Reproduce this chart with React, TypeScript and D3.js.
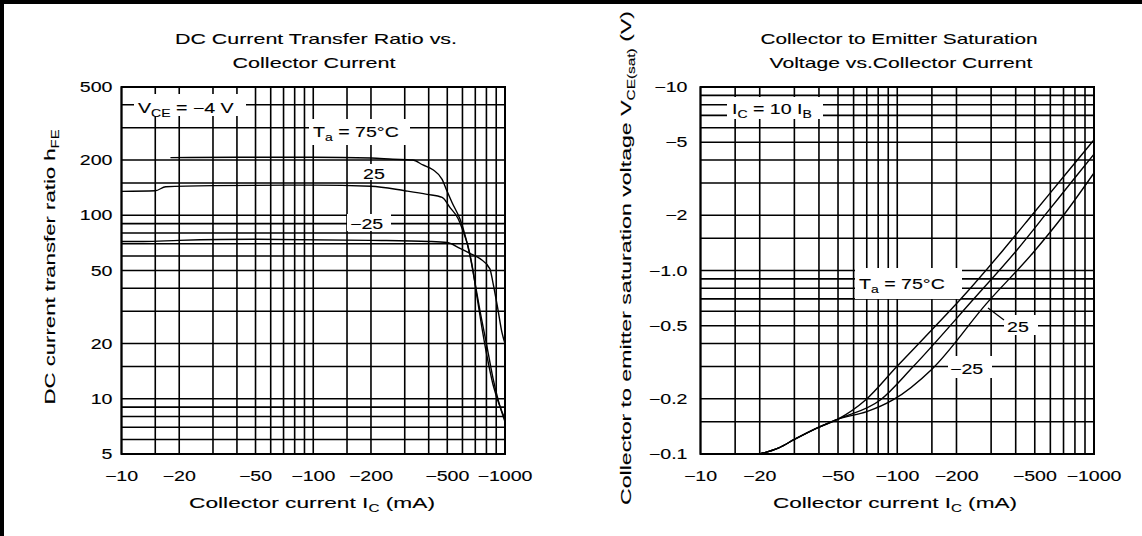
import React from 'react';
import * as d3 from 'd3';

const W = 1142;
const H = 536;

// ---- axis data ----
const icTicks = [10, 20, 50, 100, 200, 500, 1000];
const icTickLabels = ['−10', '−20', '−50', '−100', '−200', '−500', '−1000'];
const icGrid = [10, 15, 20, 30, 40, 50, 60, 70, 80, 90, 100, 150, 200, 300, 400, 500, 600, 700, 800, 900, 1000];

const hfeTicks = [5, 10, 20, 50, 100, 200, 500];
const hfeTickLabels = ['5', '10', '20', '50', '100', '200', '500'];
const hfeGrid = [5, 6, 7, 8, 9, 10, 15, 20, 30, 40, 50, 60, 70, 80, 90, 100, 150, 200, 300, 400, 500];

const vsatTicks = [0.1, 0.2, 0.5, 1, 2, 5, 10];
const vsatTickLabels = ['−0.1', '−0.2', '−0.5', '−1.0', '−2', '−5', '−10'];
const vsatGrid = [0.1, 0.15, 0.2, 0.3, 0.4, 0.5, 0.6, 0.7, 0.8, 0.9, 1, 1.5, 2, 3, 4, 5, 6, 7, 8, 9, 10];

// ---- hFE vs Ic (VCE = -4 V) ----
const hfe75Ic = [18, 40, 100, 200, 260, 330, 373, 421, 470, 499, 530, 583, 619, 657, 700, 741, 800, 865, 930, 1000];
const hfe75 = [206, 207, 207, 205, 202, 200, 188, 177, 157, 135, 117, 95, 78, 60, 42, 30, 20, 13, 9.5, 7.5];
const hfe25Ic = [10, 15, 17, 30, 100, 200, 300, 392, 470, 517, 569, 604, 641, 681, 714, 760, 806, 865, 964, 1000];
const hfe25 = [135, 136, 143, 145, 146, 144, 136, 130, 125, 110, 96, 82, 68, 50, 36, 24, 17, 12, 8.5, 7.8];
const hfeM25Ic = [10, 13, 20, 50, 200, 400, 500, 583, 657, 741, 834, 865, 917, 964, 1000];
const hfeM25 = [72, 72, 73, 74, 73, 72, 71, 66, 62, 58, 51, 43, 31, 23, 20];

// ---- VCE(sat) vs Ic (IC = 10 IB), magnitudes in V ----
const sat75Ic = [20, 25, 30, 40, 50, 69, 99, 150, 208, 345, 500, 700, 1000];
const sat75V = [0.1, 0.108, 0.12, 0.14, 0.155, 0.197, 0.298, 0.475, 0.69, 1.29, 2.09, 3.24, 5.15];
const sat25Ic = [20, 25, 30, 40, 50, 82, 120, 242, 405, 600, 800, 1000];
const sat25V = [0.1, 0.108, 0.12, 0.14, 0.155, 0.197, 0.298, 0.69, 1.29, 2.18, 3.2, 4.3];
const satM25Ic = [20, 25, 30, 40, 50, 70, 95, 150, 284, 490, 700, 1000];
const satM25V = [0.1, 0.108, 0.12, 0.14, 0.155, 0.17, 0.197, 0.29, 0.66, 1.25, 2.0, 3.4];

const FONT = '"Liberation Sans", Arial, Helvetica, sans-serif';

const L = { x0: 121.5, x1: 505, y0: 87, y1: 454 };
const R = { x0: 700.5, x1: 1094, y0: 87, y1: 454 };

const zip = (a: number[], b: number[]) => a.map((v, i) => [v, b[i]] as [number, number]);

const SX = 1.4;
const TS = 14;
const TW = 0.12;

function ST(props: { x: number; y: number; anchor?: string; size?: number; sx?: number; children: any }) {
  const { x, y, anchor = 'start', size = TS, sx = SX, children } = props;
  return (
    <text transform={`translate(${x},${y}) scale(${sx},1)`} textAnchor={anchor} fontSize={size} stroke="#000" strokeWidth={TW}>
      {children}
    </text>
  );
}

function LT(props: { x: number; y: number; len: number; size?: number; rot?: boolean; children: any }) {
  const { x, y, len, size = 15, rot = false, children } = props;
  return (
    <text
      transform={`translate(${x},${y})${rot ? ' rotate(-90)' : ''}`}
      textAnchor="middle"
      fontSize={size}
      textLength={len}
      lengthAdjust="spacingAndGlyphs"
      stroke="#000"
      strokeWidth={TW}
    >
      {children}
    </text>
  );
}

export default function App() {
  const xL = d3.scaleLog().domain([10, 1000]).range([L.x0, L.x1]);
  const yL = d3.scaleLog().domain([5, 500]).range([L.y1, L.y0]);
  const xR = d3.scaleLog().domain([10, 1000]).range([R.x0, R.x1]);
  const yR = d3.scaleLog().domain([0.1, 10]).range([R.y1, R.y0]);

  const lineL = d3.line<[number, number]>().x(d => xL(d[0])).y(d => yL(d[1])).curve(d3.curveMonotoneX);
  const lineR = d3.line<[number, number]>().x(d => xR(d[0])).y(d => yR(d[1])).curve(d3.curveMonotoneX);

  const gw = 1.6;

  const grid = (x: any, y: any, P: any, xs: number[], ys: number[]) => (
    <g>
      {xs.map((v, i) => (
        <line key={'vx' + i} x1={x(v)} x2={x(v)} y1={P.y0} y2={P.y1} stroke="#000" strokeWidth={gw} />
      ))}
      {ys.map((v, i) => (
        <line key={'hy' + i} x1={P.x0} x2={P.x1} y1={y(v)} y2={y(v)} stroke="#000" strokeWidth={gw} />
      ))}
    </g>
  );

  return (
    <svg width={W} height={H} style={{ position: 'absolute', left: 0, top: 0, background: '#fff' }} fontFamily={FONT}>
      <rect x={0} y={0} width={W} height={H} fill="#fff" />
      <line x1={0} x2={W} y1={2} y2={2} stroke="#000" strokeWidth={4} />
      <line x1={2} x2={2} y1={0} y2={H} stroke="#000" strokeWidth={4} />

      <defs>
        <clipPath id="clipL"><rect x={L.x0} y={L.y0} width={L.x1 - L.x0} height={L.y1 - L.y0} /></clipPath>
        <clipPath id="clipR"><rect x={R.x0} y={R.y0} width={R.x1 - R.x0} height={R.y1 - R.y0} /></clipPath>
      </defs>

      {/* ===== LEFT CHART ===== */}
      <LT x={316} y={44} len={282}>DC Current Transfer Ratio vs.</LT>
      <LT x={314} y={68} len={163}>Collector Current</LT>
      {grid(xL, yL, L, icGrid, hfeGrid)}
      <rect x={L.x0} y={L.y0} width={L.x1 - L.x0} height={L.y1 - L.y0} fill="none" stroke="#000" strokeWidth={2} />

      <rect x={134} y={94} width={112} height={22} fill="#fff" />
      <ST x={138} y={113}>V<tspan fontSize={10} dy={4}>CE</tspan><tspan dy={-4}> = −4 V</tspan></ST>
      <rect x={309} y={119} width={101} height={26} fill="#fff" />
      <ST x={313} y={137}>T<tspan fontSize={10} dy={4}>a</tspan><tspan dy={-4}> = 75°C</tspan></ST>
      <rect x={360} y={164} width={33} height={16} fill="#fff" />
      <ST x={363} y={179}>25</ST>
      <rect x={347} y={214} width={44} height={17} fill="#fff" />
      <ST x={350} y={229}>−25</ST>

      <g clipPath="url(#clipL)" fill="none" stroke="#000" strokeWidth={1.4}>
        <path d={lineL(zip(hfe75Ic, hfe75)) || ''} />
        <path d={lineL(zip(hfe25Ic, hfe25)) || ''} />
        <path d={lineL(zip(hfeM25Ic, hfeM25)) || ''} />
      </g>

      {hfeTicks.map((v, i) => (
        <ST key={'hl' + i} x={L.x0 - 9} y={yL(v) + 5} anchor="end">{hfeTickLabels[i]}</ST>
      ))}
      {icTicks.map((v, i) => (
        <ST key={'xl' + i} x={xL(v)} y={481} anchor="middle">{icTickLabels[i]}</ST>
      ))}
      <LT x={312} y={508} len={246}>Collector current  I<tspan fontSize={10} dy={4}>C</tspan><tspan dy={-4}>  (mA)</tspan></LT>
      <LT x={55} y={267} len={275} rot>DC current transfer ratio  h<tspan fontSize={10} dy={4}>FE</tspan></LT>

      {/* ===== RIGHT CHART ===== */}
      <LT x={899} y={44} len={277}>Collector to Emitter Saturation</LT>
      <LT x={901} y={68} len={263}>Voltage vs.Collector Current</LT>
      {grid(xR, yR, R, icGrid, vsatGrid)}
      <rect x={R.x0} y={R.y0} width={R.x1 - R.x0} height={R.y1 - R.y0} fill="none" stroke="#000" strokeWidth={2} />

      <rect x={727} y={97} width={96} height={22} fill="#fff" />
      <ST x={732} y={114}>I<tspan fontSize={10} dy={4}>C</tspan><tspan dy={-4}> = 10 I</tspan><tspan fontSize={10} dy={4}>B</tspan></ST>
      <rect x={855} y={268} width={107} height={31} fill="#fff" />
      <ST x={859} y={289}>T<tspan fontSize={10} dy={4}>a</tspan><tspan dy={-4}> = 75°C</tspan></ST>
      <rect x={1004} y={315} width={34} height={20} fill="#fff" />
      <ST x={1007} y={332}>25</ST>
      <rect x={948} y={356} width={44} height={22} fill="#fff" />
      <ST x={950} y={374}>−25</ST>

      <g clipPath="url(#clipR)" fill="none" stroke="#000" strokeWidth={1.4}>
        <path d={lineR(zip(sat75Ic, sat75V)) || ''} />
        <path d={lineR(zip(sat25Ic, sat25V)) || ''} />
        <path d={lineR(zip(satM25Ic, satM25V)) || ''} />
      </g>
      <line x1={988} x2={1004} y1={308} y2={320} stroke="#000" strokeWidth={1.2} />

      {vsatTicks.map((v, i) => (
        <ST key={'vl' + i} x={R.x0 - 13} y={yR(v) + 5} anchor="end">{vsatTickLabels[i]}</ST>
      ))}
      {icTicks.map((v, i) => (
        <ST key={'xr' + i} x={xR(v)} y={481} anchor="middle">{icTickLabels[i]}</ST>
      ))}
      <LT x={895} y={508} len={244}>Collector current  I<tspan fontSize={10} dy={4}>C</tspan><tspan dy={-4}>  (mA)</tspan></LT>
      <LT x={631} y={258} len={494} rot>
        Collector to emitter saturation voltage  V<tspan fontSize={10} dy={4}>CE(sat)</tspan><tspan dy={-4}>  (V)</tspan>
      </LT>
    </svg>
  );
}
